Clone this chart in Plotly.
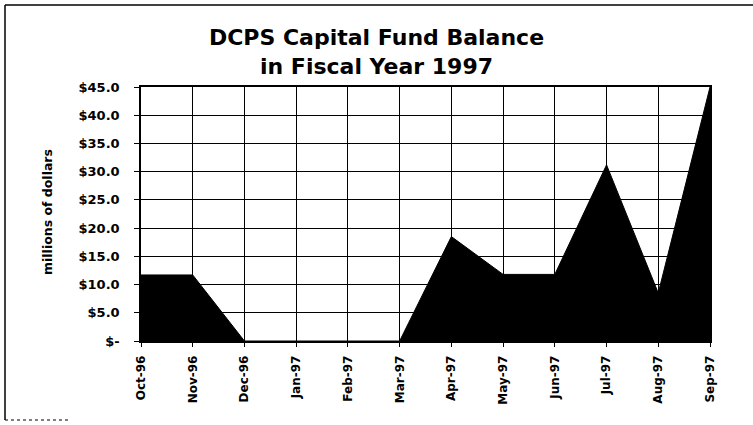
import plotly.graph_objects as go

months = ["Oct-96", "Nov-96", "Dec-96", "Jan-97", "Feb-97", "Mar-97",
          "Apr-97", "May-97", "Jun-97", "Jul-97", "Aug-97", "Sep-97"]
balance = [11.7, 11.7, 0.0, 0.0, 0.0, 0.0, 18.5, 11.8, 11.8, 31.2, 8.5, 45.0]
y_ticks = [0, 5, 10, 15, 20, 25, 30, 35, 40, 45]
y_labels = ["$-", "$5.0", "$10.0", "$15.0", "$20.0", "$25.0", "$30.0", "$35.0", "$40.0", "$45.0"]

font = "DejaVu Sans, Liberation Sans, Arial, sans-serif"

L, R, T, B = 141, 43, 87, 84
W, H = 753, 425
pw, ph = W - L - R, H - T - B


def px(x):
    return (x - L) / pw


def py(y):
    return (H - B - y) / ph


fig = go.Figure()
fig.add_trace(go.Scatter(
    x=months, y=balance, mode="lines", fill="tozeroy",
    fillcolor="black", line=dict(color="black", width=1),
    hoverinfo="x+y", showlegend=False,
))

fig.update_layout(
    width=W, height=H,
    margin=dict(l=L, r=R, t=T, b=B),
    paper_bgcolor="white", plot_bgcolor="white",
    title=dict(
        text="<b>DCPS Capital Fund Balance<br>in Fiscal Year 1997</b>",
        x=0.5, xanchor="center", y=1 - 45 / H, yanchor="middle",
        font=dict(family=font, size=22, color="black"),
    ),
    font=dict(family=font, color="black"),
    xaxis=dict(
        type="category", range=[0, 11], automargin=False,
        showgrid=True, gridcolor="black", gridwidth=1,
        showline=True, linecolor="black", linewidth=1.5, mirror=True,
        ticks="outside", ticklen=4, tickcolor="black",
        tickangle=-90, ticklabelstandoff=4,
        tickfont=dict(family=font, size=12, color="black"),
        tickvals=months, ticktext=["<b>%s</b>" % m for m in months],
    ),
    yaxis=dict(
        range=[0, 45], automargin=False,
        tickvals=y_ticks, ticktext=["<b>%s</b>" % t for t in y_labels],
        showgrid=True, gridcolor="black", gridwidth=1,
        showline=True, linecolor="black", linewidth=1.5, mirror=True,
        ticks="outside", ticklen=5, tickcolor="black", ticklabelstandoff=12,
        tickfont=dict(family=font, size=13, color="black"),
        zeroline=False,
    ),
    annotations=[dict(
        text="<b>millions of dollars</b>", textangle=-90,
        xref="paper", yref="paper", x=px(47), y=py(212),
        xanchor="center", yanchor="middle", showarrow=False,
        font=dict(family=font, size=12.5, color="black"),
    )],
    shapes=[
        dict(type="line", xref="paper", yref="paper",
             x0=px(5), x1=px(5), y0=py(5), y1=py(420),
             line=dict(color="black", width=1.5)),
        dict(type="line", xref="paper", yref="paper",
             x0=px(5), x1=px(753), y0=py(5), y1=py(5),
             line=dict(color="black", width=1.5)),
        dict(type="line", xref="paper", yref="paper",
             x0=px(5), x1=px(70), y0=py(420), y1=py(420),
             line=dict(color="black", width=1, dash="dot")),
    ],
)

fig.write_html("out.html", config={"displayModeBar": False},
               post_script="document.body.style.margin='0';")
